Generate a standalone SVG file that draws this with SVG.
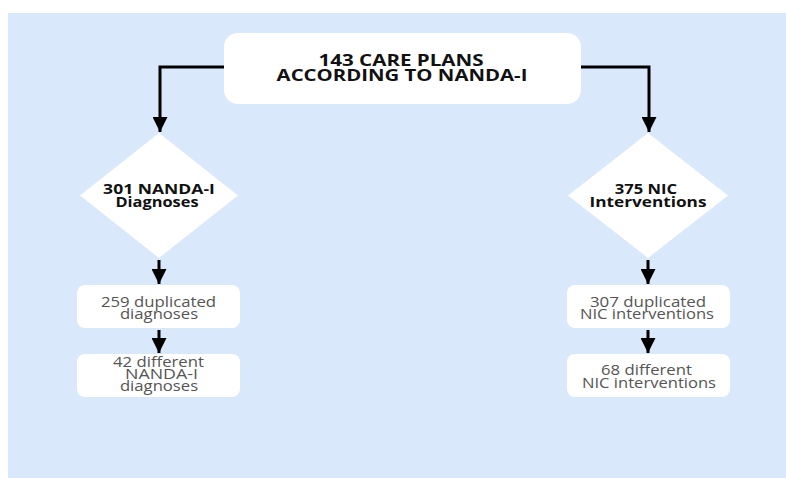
<svg xmlns="http://www.w3.org/2000/svg" width="786" height="478" viewBox="0 0 786 478">
<defs>
<marker id="ah" viewBox="0 0 10 10" refX="10" refY="5" markerWidth="5" markerHeight="5" markerUnits="strokeWidth" orient="auto">
<path d="M0,0 L10,5 L0,10 z" fill="#000"/>
</marker>
<style>
.box{fill:#fff}
.t{font-family:"Open Sans","Liberation Sans",sans-serif;text-anchor:middle}
.b{font-weight:bold;fill:#111}
.g{fill:#555;font-size:15px}
.c{fill:none;stroke:#000;stroke-width:3;marker-end:url(#ah)}
</style>
</defs>
<rect x="8" y="13" width="778" height="465" fill="#dae8fc"/>
<g id="connectors">
<path class="c" d="M224,67 H160 V132"/>
<path class="c" d="M581,67 H649 V132"/>
<path class="c" d="M159,260 V284"/>
<path class="c" d="M159,330 V353"/>
<path class="c" d="M648,260 V284"/>
<path class="c" d="M648,330 V353"/>
</g>
<g id="top">
<rect class="box" x="224" y="33" width="357" height="71" rx="14"/>
<text class="t b" font-size="16" transform="translate(401,66) scale(1.2,1)" textLength="137.5" lengthAdjust="spacingAndGlyphs">143 CARE PLANS</text>
<text class="t b" font-size="16" transform="translate(402,81) scale(1.2,1)" textLength="209" lengthAdjust="spacingAndGlyphs">ACCORDING TO NANDA-I</text>
</g>
<g id="diamond-left">
<polygon class="box" points="159,133 238,195.5 159,258 80,195.5"/>
<text class="t b" font-size="14" transform="translate(159,194) scale(1.3,1)" textLength="86" lengthAdjust="spacingAndGlyphs">301 NANDA-I</text>
<text class="t b" font-size="14" transform="translate(157,207) scale(1.3,1)" textLength="64" lengthAdjust="spacingAndGlyphs">Diagnoses</text>
</g>
<g id="diamond-right">
<polygon class="box" points="648,133 728,195.5 648,258 568,195.5"/>
<text class="t b" font-size="14" transform="translate(646,194) scale(1.3,1)" textLength="48" lengthAdjust="spacingAndGlyphs">375 NIC</text>
<text class="t b" font-size="14" transform="translate(648,207) scale(1.3,1)" textLength="90" lengthAdjust="spacingAndGlyphs">Interventions</text>
</g>
<g id="dup-left">
<rect class="box" x="77" y="285" width="163" height="43" rx="8"/>
<text class="t g" transform="translate(158.5,307) scale(1.15,1)" textLength="100" lengthAdjust="spacingAndGlyphs">259 duplicated</text>
<text class="t g" transform="translate(159,319) scale(1.15,1)" textLength="68" lengthAdjust="spacingAndGlyphs">diagnoses</text>
</g>
<g id="diff-left">
<rect class="box" x="77" y="354" width="163" height="43" rx="8"/>
<text class="t g" font-size="14" transform="translate(158.5,367) scale(1.15,1)" textLength="79" lengthAdjust="spacingAndGlyphs">42 different</text>
<text class="t g" font-size="14" transform="translate(161.5,379) scale(1.15,1)" textLength="63.5" lengthAdjust="spacingAndGlyphs">NANDA-I</text>
<text class="t g" font-size="14" transform="translate(159,391) scale(1.15,1)" textLength="68" lengthAdjust="spacingAndGlyphs">diagnoses</text>
</g>
<g id="dup-right">
<rect class="box" x="567" y="285" width="163" height="43" rx="8"/>
<text class="t g" transform="translate(648,307) scale(1.15,1)" textLength="101" lengthAdjust="spacingAndGlyphs">307 duplicated</text>
<text class="t g" transform="translate(647,319) scale(1.15,1)" textLength="116.5" lengthAdjust="spacingAndGlyphs">NIC interventions</text>
</g>
<g id="diff-right">
<rect class="box" x="567" y="354" width="163" height="43" rx="8"/>
<text class="t g" transform="translate(646.5,375) scale(1.15,1)" textLength="79" lengthAdjust="spacingAndGlyphs">68 different</text>
<text class="t g" transform="translate(649,388) scale(1.15,1)" textLength="116.5" lengthAdjust="spacingAndGlyphs">NIC interventions</text>
</g>
</svg>
